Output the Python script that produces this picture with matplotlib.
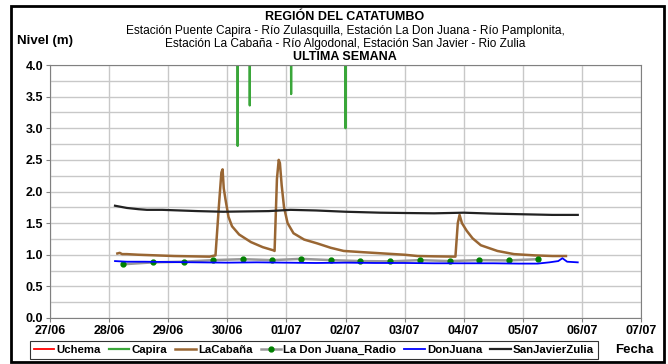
import numpy as np
import matplotlib
matplotlib.use("Agg")
import matplotlib.pyplot as plt
from matplotlib.patches import Rectangle

plt.rcParams['font.family'] = ['Liberation Sans', 'DejaVu Sans']

# days counted from 27/06
day_labels = ["27/06", "28/06", "29/06", "30/06", "01/07", "02/07",
              "03/07", "04/07", "05/07", "06/07", "07/07"]

capira_t = [1.20, 3.170, 3.175, 3.180, 3.375, 3.380, 3.385, 4.075, 4.080, 4.085,
            4.995, 5.000, 5.005, 9.10]
capira_v = [4.6, 4.6, 2.72, 4.6, 4.6, 3.36, 4.6, 4.6, 3.54, 4.6, 4.6, 3.00, 4.6, 4.6]

cabana_t = [1.14, 1.18, 1.22, 1.30, 1.50, 1.80, 2.10, 2.40, 2.70, 2.80, 2.86, 2.90,
            2.92, 2.94, 2.97, 3.02, 3.08, 3.20, 3.40, 3.60, 3.78, 3.80, 3.84, 3.87,
            3.89, 3.92, 3.96, 4.02, 4.12, 4.30, 4.52, 4.75, 4.97, 5.30, 5.65, 6.00,
            6.22, 6.50, 6.86, 6.90, 6.93, 6.97, 7.05, 7.15, 7.29, 7.57, 7.85, 8.20,
            8.50, 8.73]
cabana_v = [1.02, 1.03, 1.01, 1.01, 1.00, 0.99, 0.98, 0.975, 0.97, 0.99, 1.80, 2.30,
            2.35, 2.05, 1.87, 1.60, 1.45, 1.32, 1.20, 1.12, 1.07, 1.06, 2.20, 2.50,
            2.45, 2.10, 1.75, 1.50, 1.34, 1.24, 1.18, 1.11, 1.06, 1.04, 1.02, 1.00,
            0.98, 0.975, 0.97, 1.50, 1.63, 1.50, 1.38, 1.26, 1.15, 1.06, 1.01, 0.99,
            0.98, 0.98]

radio_t = [1.24, 1.75, 2.26, 2.76, 3.26, 3.76, 4.25, 4.76, 5.25, 5.76, 6.26, 6.76,
           7.26, 7.76, 8.26]
radio_v = [0.85, 0.88, 0.89, 0.915, 0.93, 0.915, 0.935, 0.915, 0.90, 0.895, 0.915,
           0.90, 0.915, 0.91, 0.93]

donjuana_t = [1.10, 1.30, 1.60, 2.00, 2.50, 3.00, 3.50, 4.00, 4.50, 5.00, 5.50, 6.00,
              6.50, 7.00, 7.50, 7.93, 8.25, 8.45, 8.60, 8.67, 8.75, 8.93]
donjuana_v = [0.90, 0.89, 0.89, 0.885, 0.88, 0.875, 0.88, 0.875, 0.87, 0.875, 0.87,
              0.87, 0.865, 0.865, 0.865, 0.86, 0.86, 0.88, 0.90, 0.945, 0.89, 0.88]

sanjavier_t = [1.10, 1.30, 1.50, 1.64, 1.90, 2.20, 2.50, 2.93, 3.30, 3.70, 4.07, 4.50,
               5.00, 5.59, 6.00, 6.50, 7.00, 7.50, 8.00, 8.50, 8.93]
sanjavier_v = [1.775, 1.74, 1.72, 1.71, 1.71, 1.70, 1.69, 1.68, 1.685, 1.69, 1.71, 1.70,
               1.68, 1.665, 1.66, 1.655, 1.665, 1.65, 1.64, 1.63, 1.63]

fig = plt.figure(figsize=(6.68, 3.64), dpi=100)
ax = fig.add_axes([50 / 668, 1 - 318 / 364, 591 / 668, 253 / 364])

ax.plot([], [], color='#ff0000', lw=1.3, label='Uchema')
ax.plot(capira_t, capira_v, color='#3aa63a', lw=1.6, label='Capira')
ax.plot(cabana_t, cabana_v, color='#996633', lw=1.8, label='LaCabaña')
ax.plot(radio_t, radio_v, color='#999999', lw=1.8, marker='o', ms=3.5,
        mfc='#008000', mec='#008000', label='La Don Juana_Radio')
ax.plot(donjuana_t, donjuana_v, color='#0000ff', lw=1.3, label='DonJuana')
ax.plot(sanjavier_t, sanjavier_v, color='#222222', lw=1.6, label='SanJavierZulia')

ax.set_xlim(0, 10)
ax.set_ylim(0, 4)
ax.set_xticks(np.arange(len(day_labels)))
ax.set_xticklabels(day_labels, fontweight='bold', fontsize=9)
ax.set_yticks(np.arange(0, 4.01, 0.5))
ax.set_yticklabels([f"{v:.1f}" for v in np.arange(0, 4.01, 0.5)], fontweight='bold', fontsize=9)
ax.set_yticks(np.arange(0, 4.01, 0.25), minor=True)
ax.grid(True, which='both', color='#c8c8c8', lw=1.0)
ax.set_axisbelow(True)
ax.tick_params(axis='both', length=3, color='#808080', pad=2)
ax.tick_params(axis='y', which='minor', length=0)
for s in ax.spines.values():
    s.set_color('#808080')

fig.text(345 / 668, 1 - 17 / 364, "REGIÓN DEL CATATUMBO", ha='center', va='center',
         fontsize=9, fontweight='bold')
fig.text(345 / 668, 1 - 31 / 364,
         "Estación Puente Capira - Río Zulasquilla, Estación La Don Juana - Río Pamplonita,",
         ha='center', va='center', fontsize=8.6)
fig.text(345 / 668, 1 - 44 / 364,
         "Estación La Cabaña - Río Algodonal, Estación San Javier - Rio Zulia",
         ha='center', va='center', fontsize=8.6)
fig.text(345 / 668, 1 - 57 / 364, "ULTIMA SEMANA", ha='center', va='center',
         fontsize=9, fontweight='bold')
fig.text(17 / 668, 1 - 41 / 364, "Nivel (m)", ha='left', va='center',
         fontsize=9.5, fontweight='bold')
fig.text(634 / 668, 1 - 350 / 364, "Fecha", ha='center', va='center',
         fontsize=9.5, fontweight='bold')

leg = fig.legend(loc='center', bbox_to_anchor=(314 / 668, 1 - 350 / 364), ncol=6,
                 frameon=True, fancybox=False, handlelength=1.8,
                 handletextpad=0.2, columnspacing=0.7, borderpad=0.35,
                 prop={'weight': 'bold', 'size': 8.2})
leg.get_frame().set_edgecolor('#000000')
leg.get_frame().set_linewidth(0.8)

fig.patches.append(Rectangle((11 / 668, 2 / 364), 653 / 668, 356 / 364,
                             transform=fig.transFigure, fill=False,
                             edgecolor='black', lw=2))

fig.savefig("out.png", dpi=100)
